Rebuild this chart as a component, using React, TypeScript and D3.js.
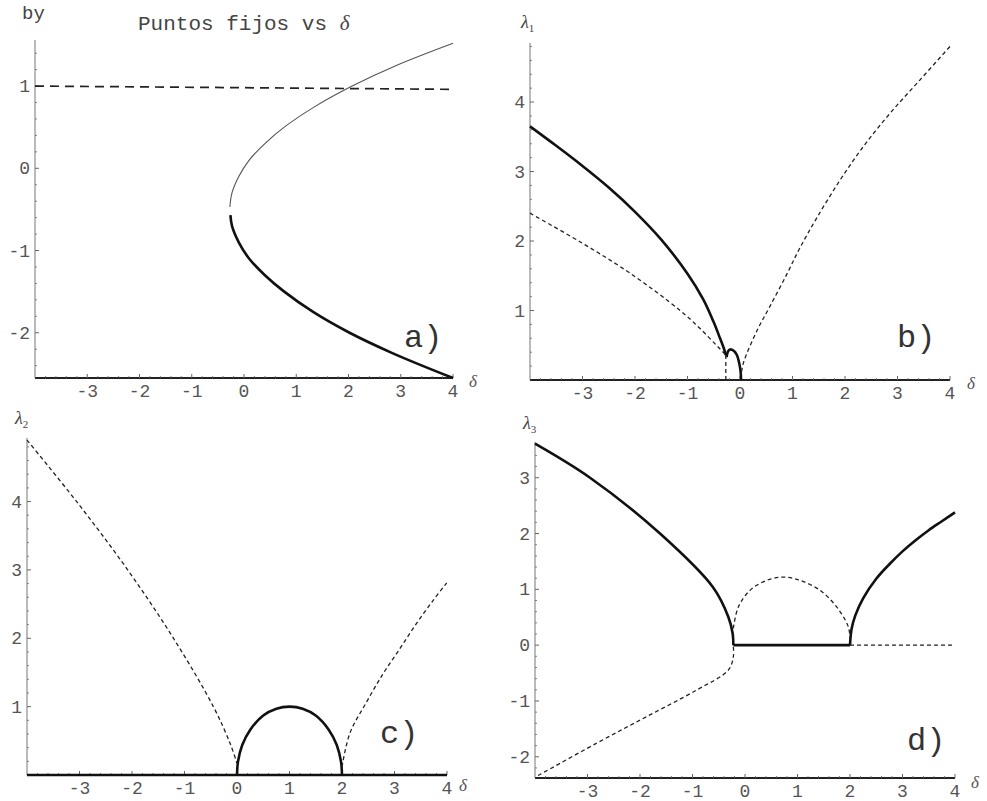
import React from 'react';
import * as d3 from 'd3';

type Pt = [number, number];

// Tick values
const deltaTicks = [-3, -2, -1, 0, 1, 2, 3, 4];
const byTicks = [-2, -1, 0, 1];
const lambdaTicks = [1, 2, 3, 4];
const lambda3Ticks = [-2, -1, 0, 1, 2, 3];

// a) fixed points by versus delta
const fixedUpper: Pt[] = [
  [-0.27, -0.47], [-0.23, -0.3], [-0.1, -0.1], [0.1, 0.1], [0.4, 0.3],
  [0.77, 0.5], [1.355, 0.75], [2.07, 1.0], [2.915, 1.25], [4.0, 1.52],
];
const fixedLower: Pt[] = [
  [-0.26, -0.57], [-0.23, -0.7], [-0.1, -0.9], [0.1, -1.1], [0.4, -1.3],
  [0.77, -1.5], [1.33, -1.75], [2.02, -2.0], [2.85, -2.25], [4.0, -2.55],
];
const fixedLevel: Pt[] = [[-4, 1.0], [4, 0.96]];

// b) lambda 1
const lambda1Solid: Pt[] = [
  [-4, 3.65], [-3.5, 3.37], [-3, 3.08], [-2.5, 2.77], [-2, 2.42], [-1.5, 2.02],
  [-1.0, 1.53], [-0.7, 1.16], [-0.5, 0.83], [-0.38, 0.6], [-0.31, 0.46], [-0.27, 0.36],
];
const lambda1Arch: Pt[] = [
  [-0.255, 0.33], [-0.23, 0.41], [-0.19, 0.44], [-0.12, 0.42], [-0.06, 0.36],
  [-0.02, 0.26], [0.01, 0.13], [0.02, 0.0],
];
const lambda1DashLeft: Pt[] = [
  [-4, 2.4], [-3.05, 1.99], [-2.1, 1.54], [-1.14, 1.0], [-0.76, 0.74],
  [-0.45, 0.5], [-0.32, 0.4], [-0.27, 0.36],
];
const lambda1DashDrop: Pt[] = [[-0.27, 0.36], [-0.27, 0.0]];
const lambda1DashRight: Pt[] = [
  [0.03, 0.12], [0.07, 0.26], [0.33, 0.72], [0.57, 1.06], [0.89, 1.52],
  [1.14, 1.9], [1.46, 2.33], [1.9, 2.87], [2.35, 3.36], [2.86, 3.84],
  [3.43, 4.32], [4.0, 4.8],
];

// c) lambda 2
const lambda2DashLeft: Pt[] = [
  [-4, 4.9], [-3.05, 3.995], [-2.1, 3.02], [-1.21, 2.0], [-0.45, 1.0],
  [-0.13, 0.46], [0.0, 0.17],
];
const lambda2Arch: Pt[] = [
  [0, 0], [0.02, 0.2], [0.1, 0.44], [0.25, 0.66], [0.5, 0.87], [0.75, 0.97],
  [1.0, 1.0], [1.25, 0.97], [1.5, 0.87], [1.75, 0.66], [1.9, 0.44], [1.98, 0.2], [2, 0],
];
const lambda2DashRight: Pt[] = [
  [2.0, 0.12], [2.15, 0.61], [2.47, 1.07], [2.787, 1.487], [3.105, 1.852],
  [3.42, 2.218], [3.74, 2.558], [3.994, 2.81],
];
const lambda2Zero: Pt[] = [[-4, 0], [4, 0]];

// d) lambda 3
const lambda3Left: Pt[] = [
  [-4, 3.61], [-2.952, 3.0], [-1.619, 2.0], [-0.603, 1.03], [-0.317, 0.506],
  [-0.235, 0.21], [-0.222, 0.0],
];
const lambda3Zero: Pt[] = [[-0.222, 0], [2.0, 0]];
const lambda3Right: Pt[] = [
  [2.0, 0.0], [2.03, 0.29], [2.1, 0.53], [2.25, 0.84], [2.5, 1.19], [2.75, 1.45],
  [3.0, 1.68], [3.25, 1.88], [3.5, 2.06], [3.75, 2.22], [4.0, 2.38],
];
const lambda3DashArch: Pt[] = [
  [-0.222, 0.3], [-0.127, 0.685], [0.095, 0.982], [0.413, 1.161], [0.73, 1.22],
  [1.048, 1.161], [1.43, 0.982], [1.746, 0.685], [1.968, 0.327], [2.0, 0.1],
];
const lambda3DashZero: Pt[] = [[2.0, 0], [4.0, 0]];
const lambda3DashLower: Pt[] = [
  [-0.222, -0.03], [-0.222, -0.208], [-0.317, -0.446], [-0.921, -0.804],
  [-1.873, -1.28], [-2.825, -1.756], [-3.968, -2.35],
];

type Kind = 'thick' | 'thin' | 'dash' | 'longdash';
interface Series { data: Pt[]; kind: Kind; smooth?: boolean }

interface PanelSpec {
  left: number; right: number; top: number; bottom: number;
  yDomain: [number, number];
  yTicks: number[];
  series: Series[];
  yLabel: string; yLabelSub?: string; yLabelX: number; yLabelY: number;
  tag: string; tagX: number; tagY: number;
  deltaX: number; deltaY: number;
}

const styleFor = (k: Kind) => {
  switch (k) {
    case 'thick': return { stroke: '#111', strokeWidth: 2.6 };
    case 'thin': return { stroke: '#555', strokeWidth: 1.1 };
    case 'dash': return { stroke: '#222', strokeWidth: 1.3, strokeDasharray: '4,3' };
    default: return { stroke: '#222', strokeWidth: 1.7, strokeDasharray: '9,6' };
  }
};

const MONO = '"Liberation Mono", "DejaVu Sans Mono", monospace';
const SERIF = '"Liberation Serif", "DejaVu Serif", serif';

function Panel({ p }: { p: PanelSpec }) {
  const x = d3.scaleLinear().domain([-4, 4]).range([p.left, p.right]);
  const y = d3.scaleLinear().domain(p.yDomain).range([p.bottom, p.top]);
  const minorX = d3.range(-4, 4.0001, 0.2).filter(v => Math.abs(v - Math.round(v)) > 1e-6);
  const minorY = d3.range(Math.ceil(p.yDomain[0] * 5) / 5, p.yDomain[1], 0.2)
    .filter(v => Math.abs(v - Math.round(v)) > 1e-6);
  const tickColor = '#666';
  return (
    <g>
      {/* axes */}
      <line x1={p.left} x2={p.right} y1={p.bottom} y2={p.bottom} stroke="#222" strokeWidth={1.8} />
      <line x1={p.left} x2={p.left} y1={p.bottom} y2={p.top} stroke="#777" strokeWidth={1} />
      {deltaTicks.map(t => (
        <g key={'xt' + t}>
          <line x1={x(t)} x2={x(t)} y1={p.bottom} y2={p.bottom - 4} stroke={tickColor} strokeWidth={1} />
          <text x={x(t)} y={p.bottom + 19} fontFamily={MONO} fontSize={18} fill="#555" textAnchor="middle">{String(t)}</text>
        </g>
      ))}
      {minorX.map((t, i) => (
        <line key={'xm' + i} x1={x(t)} x2={x(t)} y1={p.bottom} y2={p.bottom - 2} stroke={tickColor} strokeWidth={0.8} />
      ))}
      {p.yTicks.map(t => (
        <g key={'yt' + t}>
          <line x1={p.left} x2={p.left + 4} y1={y(t)} y2={y(t)} stroke={tickColor} strokeWidth={1} />
          <text x={p.left - 5} y={y(t) + 6} fontFamily={MONO} fontSize={18} fill="#555" textAnchor="end">{String(t)}</text>
        </g>
      ))}
      {minorY.map((t, i) => (
        <line key={'ym' + i} x1={p.left} x2={p.left + 2} y1={y(t)} y2={y(t)} stroke={tickColor} strokeWidth={0.8} />
      ))}
      {/* curves */}
      {p.series.map((s, i) => {
        const gen = d3.line<Pt>()
          .x(d => x(d[0]))
          .y(d => y(d[1]))
          .curve(s.smooth === false ? d3.curveLinear : d3.curveCatmullRom.alpha(0.5));
        return <path key={'s' + i} d={gen(s.data) || ''} fill="none" {...styleFor(s.kind)} strokeLinecap="butt" />;
      })}
      {/* labels */}
      {p.yLabelSub ? (
        <text x={p.yLabelX} y={p.yLabelY} fontFamily={SERIF} fontSize={18} fill="#444">
          <tspan fontStyle="italic">{p.yLabel}</tspan>
          <tspan fontSize={11} dy={4}>{p.yLabelSub}</tspan>
        </text>
      ) : (
        <text x={p.yLabelX} y={p.yLabelY} fontFamily={MONO} fontSize={19} fill="#444">{p.yLabel}</text>
      )}
      <text x={p.deltaX} y={p.deltaY} fontFamily={SERIF} fontStyle="italic" fontSize={17} fill="#555">δ</text>
      <text x={p.tagX} y={p.tagY} fontFamily={MONO} fontSize={32} fill="#333">{p.tag}</text>
    </g>
  );
}

const panels: PanelSpec[] = [
  {
    left: 35, right: 453, top: 40, bottom: 378, yDomain: [-2.55, 1.56], yTicks: byTicks,
    series: [
      { data: fixedUpper, kind: 'thin' },
      { data: fixedLower, kind: 'thick' },
      { data: fixedLevel, kind: 'longdash', smooth: false },
    ],
    yLabel: 'by', yLabelX: 22, yLabelY: 19, tag: 'a)', tagX: 404, tagY: 347,
    deltaX: 469, deltaY: 387,
  },
  {
    left: 530, right: 950, top: 43, bottom: 380, yDomain: [0, 4.85], yTicks: lambdaTicks,
    series: [
      { data: lambda1Solid, kind: 'thick' },
      { data: lambda1Arch, kind: 'thick' },
      { data: lambda1DashLeft, kind: 'dash' },
      { data: lambda1DashDrop, kind: 'dash', smooth: false },
      { data: lambda1DashRight, kind: 'dash' },
    ],
    yLabel: 'λ', yLabelSub: '1', yLabelX: 521, yLabelY: 28, tag: 'b)', tagX: 897, tagY: 347,
    deltaX: 967, deltaY: 389,
  },
  {
    left: 27, right: 447, top: 438, bottom: 775, yDomain: [0, 4.93], yTicks: lambdaTicks,
    series: [
      { data: lambda2Zero, kind: 'thick', smooth: false },
      { data: lambda2DashLeft, kind: 'dash' },
      { data: lambda2Arch, kind: 'thick' },
      { data: lambda2DashRight, kind: 'dash' },
    ],
    yLabel: 'λ', yLabelSub: '2', yLabelX: 15, yLabelY: 424, tag: 'c)', tagX: 380, tagY: 743,
    deltaX: 459, deltaY: 791,
  },
  {
    left: 535, right: 955, top: 442, bottom: 778, yDomain: [-2.38, 3.64], yTicks: lambda3Ticks,
    series: [
      { data: lambda3Left, kind: 'thick' },
      { data: lambda3Zero, kind: 'thick', smooth: false },
      { data: lambda3Right, kind: 'thick' },
      { data: lambda3DashArch, kind: 'dash' },
      { data: lambda3DashZero, kind: 'dash', smooth: false },
      { data: lambda3DashLower, kind: 'dash' },
    ],
    yLabel: 'λ', yLabelSub: '3', yLabelX: 523, yLabelY: 429, tag: 'd)', tagX: 907, tagY: 750,
    deltaX: 971, deltaY: 788,
  },
];

export default function App() {
  return (
    <svg width={987} height={801} viewBox="0 0 987 801"
      style={{ position: 'absolute', left: 0, top: 0, background: '#fff' }}>
      <rect width={987} height={801} fill="#fff" />
      <text x={138} y={30} fontFamily={MONO} fontSize={21} fill="#444">Puntos fijos vs <tspan fontFamily={SERIF} fontStyle="italic">δ</tspan></text>
      {panels.map((p, i) => <Panel key={i} p={p} />)}
    </svg>
  );
}
